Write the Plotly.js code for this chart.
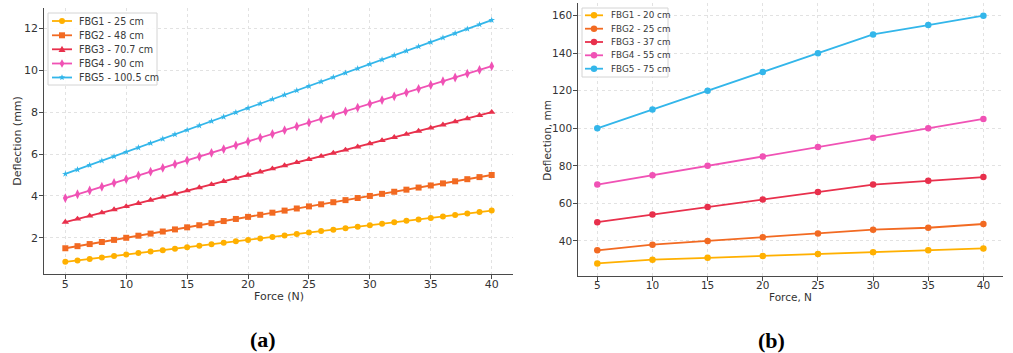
<!DOCTYPE html>
<html>
<head>
<meta charset="utf-8">
<script src="https://cdn.plot.ly/plotly-3.0.1.min.js"></script>
<style>html,body{margin:0;padding:0;background:#fff;}#chart{width:1013px;height:353px;}</style>
</head>
<body>
<div id="chart"></div>
<script>
// ---- Data: panel (a) ----
const forceA = [5,6,7,8,9,10,11,12,13,14,15,16,17,18,19,20,21,22,23,24,25,26,27,28,29,30,31,32,33,34,35,36,37,38,39,40];
const a_fbg1 = [0.85,0.92,0.99,1.06,1.13,1.20,1.27,1.34,1.41,1.48,1.55,1.62,1.69,1.76,1.83,1.90,1.97,2.04,2.11,2.18,2.25,2.32,2.39,2.46,2.53,2.60,2.67,2.74,2.81,2.88,2.95,3.02,3.09,3.16,3.23,3.30];
const a_fbg2 = [1.5,1.6,1.7,1.8,1.9,2.0,2.1,2.2,2.3,2.4,2.5,2.6,2.7,2.8,2.9,3.0,3.1,3.2,3.3,3.4,3.5,3.6,3.7,3.8,3.9,4.0,4.1,4.2,4.3,4.4,4.5,4.6,4.7,4.8,4.9,5.0];
const a_fbg3 = [2.75,2.90,3.05,3.20,3.35,3.50,3.65,3.80,3.95,4.10,4.25,4.40,4.55,4.70,4.85,5.00,5.15,5.30,5.45,5.60,5.75,5.90,6.05,6.20,6.35,6.50,6.65,6.80,6.95,7.10,7.25,7.40,7.55,7.70,7.85,8.00];
const a_fbg4 = [3.90,4.08,4.26,4.44,4.62,4.80,4.98,5.16,5.34,5.52,5.70,5.88,6.06,6.24,6.42,6.60,6.78,6.96,7.14,7.32,7.50,7.68,7.86,8.04,8.22,8.40,8.58,8.76,8.94,9.12,9.30,9.48,9.66,9.84,10.02,10.20];
const a_fbg5 = [5.05,5.26,5.47,5.68,5.89,6.10,6.31,6.52,6.73,6.94,7.15,7.36,7.57,7.78,7.99,8.20,8.41,8.62,8.83,9.04,9.25,9.46,9.67,9.88,10.09,10.30,10.51,10.72,10.93,11.14,11.35,11.56,11.77,11.98,12.19,12.40];
const namesA = ["FBG1 - 25 cm","FBG2 - 48 cm","FBG3 - 70.7 cm","FBG4 - 90 cm","FBG5 - 100.5 cm"];

// ---- Data: panel (b) ----
const forceB = [5,10,15,20,25,30,35,40];
const b_fbg1 = [28,30,31,32,33,34,35,36];
const b_fbg2 = [35,38,40,42,44,46,47,49];
const b_fbg3 = [50,54,58,62,66,70,72,74];
const b_fbg4 = [70,75,80,85,90,95,100,105];
const b_fbg5 = [100,110,120,130,140,150,155,160];
const namesB = ["FBG1 - 20 cm","FBG2 - 25 cm","FBG3 - 37 cm","FBG4 - 55 cm","FBG5 - 75 cm"];

const ticksX = [5,10,15,20,25,30,35,40];
const ticksYA = [2,4,6,8,10,12];
const ticksYB = [40,60,80,100,120,140,160];

const colors = ["#FFB000","#F26A22","#E8304C","#F052B5","#33B6EA"];
const symbolsA = ["circle","square","triangle-up","diamond-tall","star"];
const sizesA = [6,6,6.5,7,5];

const seriesA = [a_fbg1,a_fbg2,a_fbg3,a_fbg4,a_fbg5];
const seriesB = [b_fbg1,b_fbg2,b_fbg3,b_fbg4,b_fbg5];

const traces = [];
seriesA.forEach((ys,i)=>{
  traces.push({x:forceA,y:ys,name:namesA[i],type:'scatter',mode:'lines+markers',
    xaxis:'x',yaxis:'y',showlegend:false,
    line:{color:colors[i],width:1.8},
    marker:{color:colors[i],symbol:symbolsA[i],size:sizesA[i]}});
});
seriesB.forEach((ys,i)=>{
  traces.push({x:forceB,y:ys,name:namesB[i],type:'scatter',mode:'lines+markers',
    xaxis:'x2',yaxis:'y2',showlegend:false,
    line:{color:colors[i],width:1.8},
    marker:{color:colors[i],symbol:'circle',size:6.5}});
});

const W=1013,H=353;
const px = v => v/W, py = v => 1 - v/H;

// ---- custom compact legends (matplotlib-like spacing) ----
function starPath(r){
  let p='';
  for(let k=0;k<10;k++){
    const ang = Math.PI/2 + k*Math.PI/5;
    const rr = (k%2===0)? r : r*0.45;
    p += (k===0?'M':'L') + (rr*Math.cos(ang)).toFixed(2) + ',' + (rr*Math.sin(ang)).toFixed(2);
  }
  return p+'Z';
}
const glyphA = [
  {type:'circle',x0:-3,x1:3,y0:-3,y1:3},
  {type:'rect',x0:-3,x1:3,y0:-3,y1:3},
  {type:'path',path:'M-3.5,-2.8L3.5,-2.8L0,3.5Z'},
  {type:'path',path:'M0,4.2L2.4,0L0,-4.2L-2.4,0Z'},
  {type:'path',path:starPath(3.2)}
];
const shapes = [];
const annotations = [];
function addLegend(box, rows, lineX0, lineX1, textX, names, glyphs, fontSize){
  shapes.push({type:'rect',xref:'paper',yref:'paper',x0:px(box[0]),x1:px(box[1]),y0:py(box[3]),y1:py(box[2]),
    fillcolor:'rgba(255,255,255,0.9)',line:{color:'#d4d4d4',width:1},layer:'above'});
  names.forEach((nm,i)=>{
    shapes.push({type:'line',xref:'paper',yref:'paper',x0:px(lineX0),x1:px(lineX1),y0:py(rows[i]),y1:py(rows[i]),
      line:{color:colors[i],width:1.8},layer:'above'});
    const g = Object.assign({xref:'paper',yref:'paper',xsizemode:'pixel',ysizemode:'pixel',
      xanchor:px((lineX0+lineX1)/2),yanchor:py(rows[i]),fillcolor:colors[i],line:{width:0},layer:'above'},glyphs[i]);
    shapes.push(g);
    annotations.push({text:nm,xref:'paper',yref:'paper',x:px(textX),y:py(rows[i]),xanchor:'left',yanchor:'middle',
      showarrow:false,font:{family:'DejaVu Sans',size:fontSize,color:'#3a3a3a'}});
  });
}
addLegend([48,157,13,85],[21,35.3,49.3,63.5,77.5],52,72,77,namesA,glyphA,9.6);
const glyphB = namesB.map(()=>({type:'circle',x0:-3.2,x1:3.2,y0:-3.2,y1:3.2}));
addLegend([582,668,8,77],[15.3,28.7,42,55.3,68.7],585,603,608.5,namesB,glyphB,8.8);

// axis titles and panel labels
annotations.push(
  {text:'Deflection (mm)',xref:'paper',yref:'paper',x:px(16.7),y:py(141),textangle:-90,showarrow:false,
   xanchor:'center',yanchor:'middle',font:{family:'DejaVu Sans',size:11,color:'#333'}},
  {text:'Force (N)',xref:'paper',yref:'paper',x:px(278.7),y:py(296),showarrow:false,
   xanchor:'center',yanchor:'middle',font:{family:'DejaVu Sans',size:11,color:'#333'}},
  {text:'Deflection, mm',xref:'paper',yref:'paper',x:px(546.7),y:py(140),textangle:-90,showarrow:false,
   xanchor:'center',yanchor:'middle',font:{family:'DejaVu Sans',size:10.5,color:'#333'}},
  {text:'Force, N',xref:'paper',yref:'paper',x:px(790.7),y:py(297),showarrow:false,
   xanchor:'center',yanchor:'middle',font:{family:'DejaVu Sans',size:10.5,color:'#333'}},
  {text:'<b>(a)</b>',xref:'paper',yref:'paper',x:px(263),y:py(339),showarrow:false,
   xanchor:'center',yanchor:'middle',font:{family:'Liberation Serif',size:22,color:'#000'}},
  {text:'<b>(b)</b>',xref:'paper',yref:'paper',x:px(771),y:py(340),showarrow:false,
   xanchor:'center',yanchor:'middle',font:{family:'Liberation Serif',size:22,color:'#000'}}
);

const axCommon = {
  showline:true, linecolor:'#4a4a4a', linewidth:1.3, mirror:false,
  ticks:'outside', ticklen:3.5, tickwidth:1, tickcolor:'#4a4a4a',
  showgrid:true, gridcolor:'#e2e2e2', griddash:'dot', gridwidth:1,
  zeroline:false, tickfont:{family:'DejaVu Sans',size:11,color:'#333'}
};

const layout = {
  width:W, height:H, margin:{l:0,r:0,t:0,b:0},
  paper_bgcolor:'#fff', plot_bgcolor:'#fff', showlegend:false,
  font:{family:'DejaVu Sans',color:'#333'},
  xaxis:Object.assign({},axCommon,{domain:[44/W,513/W],range:[3.25,41.75],tickvals:ticksX,anchor:'y',ticklabelstandoff:-4}),
  yaxis:Object.assign({},axCommon,{domain:[1-274/H,1-8/H],range:[0.27,12.98],tickvals:ticksYA,anchor:'x',ticklabelstandoff:-1}),
  xaxis2:Object.assign({},axCommon,{domain:[578/W,1002.7/W],range:[3.25,41.75],tickvals:ticksX,anchor:'y2',ticklabelstandoff:-4,
    tickfont:{family:'DejaVu Sans',size:10.5,color:'#333'}}),
  yaxis2:Object.assign({},axCommon,{domain:[1-275.8/H,1-3.3/H],range:[21.4,166.6],tickvals:ticksYB,anchor:'x2',ticklabelstandoff:-1,
    tickfont:{family:'DejaVu Sans',size:10.5,color:'#333'}}),
  shapes:shapes,
  annotations:annotations
};

Plotly.newPlot('chart',traces,layout,{displayModeBar:false,staticPlot:true});
</script>
</body>
</html>
